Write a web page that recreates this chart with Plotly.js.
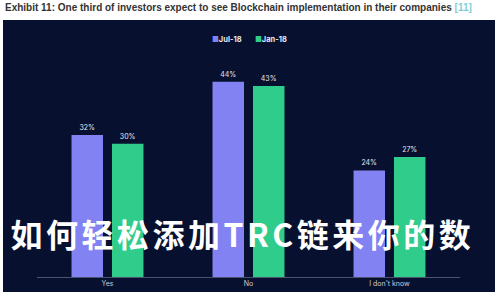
<!DOCTYPE html>
<html>
<head>
<meta charset="utf-8">
<script src="https://cdn.plot.ly/plotly-3.0.1.min.js"></script>
<style>
html,body{margin:0;padding:0;background:#ffffff;}
#chart{width:500px;height:300px;}
#chart .annotation[data-index="3"] text{letter-spacing:3.5px;}
</style>
</head>
<body>
<div id="chart"></div>
<script>
var categories = ["Yes", "No", "I don't know"];
var seriesNames = ["Jul-18", "Jan-18"];
var jul18 = [32, 44, 24];
var jan18 = [30, 43, 27];
var titleText = "Exhibit 11: One third of investors expect to see Blockchain implementation in their companies";
var titleRef = "[11]";
var overlayText = "如何轻松添加TRC链来你的数";

function pct(arr){ return arr.map(function(v){ return v + "%"; }); }

var blue = "#8282f2";
var green = "#2fcc8b";
var txtFont = {family: "Inter, 'Open Sans', sans-serif", size: 7, color: "#e6e8f2"};

var traces = [
  {type: "bar", name: seriesNames[0], x: categories, y: jul18, text: pct(jul18),
   textposition: "outside", textfont: txtFont, cliponaxis: false,
   marker: {color: blue}, hoverinfo: "none"},
  {type: "bar", name: seriesNames[1], x: categories, y: jan18, text: pct(jan18),
   textposition: "outside", textfont: txtFont, cliponaxis: false,
   marker: {color: green}, hoverinfo: "none"}
];

var L = 37, R = 40, T = 55, B = 23, W = 500, H = 300;
var pw = W - L - R, ph = H - T - B;
function px(x){ return (x - L) / pw; }
function py(y){ return (H - B - y) / ph; }

var legFont = {family: "Inter, 'Open Sans', sans-serif", size: 7.5, color: "#e6e8f5"};

var layout = {
  width: W, height: H,
  margin: {l: L, r: R, t: T, b: B, pad: 0},
  paper_bgcolor: "#ffffff",
  plot_bgcolor: "rgba(0,0,0,0)",
  barmode: "group",
  bargap: 0.426,
  bargroupgap: 0.222,
  showlegend: false,
  xaxis: {type: "category", range: [-0.5, 2.5], showgrid: false, zeroline: false,
          showline: true, linecolor: "#4a5272", linewidth: 1, ticks: "",
          tickfont: {family: "Inter, 'Open Sans', sans-serif", size: 7, color: "#c9ccd8"},
          fixedrange: true},
  yaxis: {range: [0, 50], visible: false, showgrid: false, zeroline: false, fixedrange: true},
  shapes: [
    {type: "rect", xref: "paper", yref: "paper", x0: px(3), x1: px(495), y0: py(292), y1: py(20),
     fillcolor: "#07112f", line: {width: 0}, layer: "below"}
  ],
  annotations: [
    {xref: "paper", yref: "paper", x: px(3), y: py(7), xanchor: "left", yanchor: "middle",
     showarrow: false,
     text: "<b>" + titleText + " <span style='color:#7fd0d6'>" + titleRef + "</span></b>",
     font: {family: "'Liberation Sans', Arial, sans-serif", size: 10, color: "#333333"}},
    {xref: "paper", yref: "paper", x: px(210), y: py(39), xanchor: "left", yanchor: "middle",
     showarrow: false,
     text: "<span style='color:" + blue + "'>■</span><b>" + seriesNames[0] + "</b>",
     font: legFont},
    {xref: "paper", yref: "paper", x: px(253), y: py(39), xanchor: "left", yanchor: "middle",
     showarrow: false,
     text: "<span style='color:" + green + "'>■</span><b>" + seriesNames[1] + "</b>",
     font: legFont},
    {xref: "paper", yref: "paper", x: px(242), y: py(233), xanchor: "center", yanchor: "middle",
     showarrow: false, text: "<b>" + overlayText + "</b>",
     font: {family: "'Noto Sans CJK SC', sans-serif", size: 32, color: "#ffffff"}}
  ]
};

Plotly.newPlot("chart", traces, layout, {displayModeBar: false, staticPlot: true});
</script>
</body>
</html>
